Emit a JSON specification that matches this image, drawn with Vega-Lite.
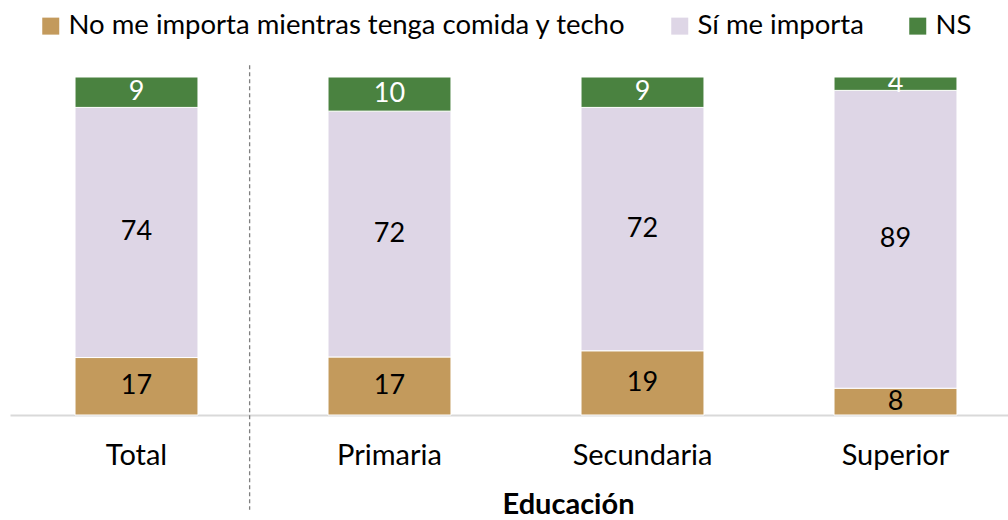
{
  "$schema": "https://vega.github.io/schema/vega-lite/v6.json",
  "width": 1012,
  "height": 338,
  "padding": {"left": 10, "top": 77, "right": 0, "bottom": 105},
  "autosize": {"type": "none"},
  "background": "white",
  "config": {"view": {"stroke": null}, "font": "Lato"},
  "data": {"values": [
    {"grupo": "Total", "respuesta": "No me importa mientras tenga comida y techo", "orden": 1, "valor": 17},
    {"grupo": "Total", "respuesta": "Sí me importa", "orden": 2, "valor": 74},
    {"grupo": "Total", "respuesta": "NS", "orden": 3, "valor": 9},
    {"grupo": "Primaria", "respuesta": "No me importa mientras tenga comida y techo", "orden": 1, "valor": 17},
    {"grupo": "Primaria", "respuesta": "Sí me importa", "orden": 2, "valor": 72},
    {"grupo": "Primaria", "respuesta": "NS", "orden": 3, "valor": 10},
    {"grupo": "Secundaria", "respuesta": "No me importa mientras tenga comida y techo", "orden": 1, "valor": 19},
    {"grupo": "Secundaria", "respuesta": "Sí me importa", "orden": 2, "valor": 72},
    {"grupo": "Secundaria", "respuesta": "NS", "orden": 3, "valor": 9},
    {"grupo": "Superior", "respuesta": "No me importa mientras tenga comida y techo", "orden": 1, "valor": 8},
    {"grupo": "Superior", "respuesta": "Sí me importa", "orden": 2, "valor": 89},
    {"grupo": "Superior", "respuesta": "NS", "orden": 3, "valor": 4}
  ]},
  "layer": [
    {
      "mark": {"type": "bar", "stroke": "white", "strokeWidth": 1},
      "encoding": {
        "x": {
          "field": "grupo", "type": "nominal",
          "sort": ["Total", "Primaria", "Secundaria", "Superior"],
          "scale": {"paddingInner": 0.514, "paddingOuter": 0.257},
          "axis": {
            "domainColor": "#D9D9D9", "domainWidth": 2, "ticks": false,
            "labelFontSize": 29, "labelColor": "black", "labelPadding": 26, "labelAngle": 0,
            "title": "Educación", "titleFontSize": 29, "titleFontWeight": "bold", "titleColor": "black",
            "titleX": 558, "titleY": 98, "titleBaseline": "alphabetic", "titleAlign": "center"
          }
        },
        "y": {
          "field": "valor", "type": "quantitative", "stack": "normalize",
          "scale": {"domain": [0, 1], "nice": false},
          "axis": null
        },
        "color": {
          "field": "respuesta", "type": "nominal",
          "scale": {
            "domain": ["No me importa mientras tenga comida y techo", "Sí me importa", "NS"],
            "range": ["#C39A5C", "#DED6E6", "#4A8240"]
          },
          "legend": {
            "orient": "none", "legendX": 27, "legendY": -65, "direction": "horizontal",
            "title": null, "symbolType": "square", "symbolSize": 289, "symbolStrokeWidth": 0,
            "labelFontSize": 27.5, "labelColor": "black", "labelOffset": 4, "columnPadding": 40, "labelLimit": 700
          }
        },
        "order": {"field": "orden", "type": "quantitative"}
      }
    },
    {
      "mark": {"type": "text", "fontSize": 27, "baseline": "middle"},
      "encoding": {
        "x": {"field": "grupo", "type": "nominal", "sort": ["Total", "Primaria", "Secundaria", "Superior"]},
        "y": {"field": "valor", "type": "quantitative", "stack": "normalize", "bandPosition": 0.5},
        "text": {"field": "valor", "type": "quantitative"},
        "color": {"condition": {"test": "datum.respuesta === 'NS'", "value": "white"}, "value": "black"},
        "order": {"field": "orden", "type": "quantitative"}
      }
    },
    {
      "data": {"values": [{}]},
      "mark": {"type": "rule", "strokeDash": [4, 3], "color": "#7F7F7F", "strokeWidth": 1.3},
      "encoding": {
        "x": {"datum": "Total", "type": "nominal", "bandPosition": 1.42},
        "y": {"datum": 1.035, "type": "quantitative"},
        "y2": {"datum": -0.28}
      }
    }
  ]
}
